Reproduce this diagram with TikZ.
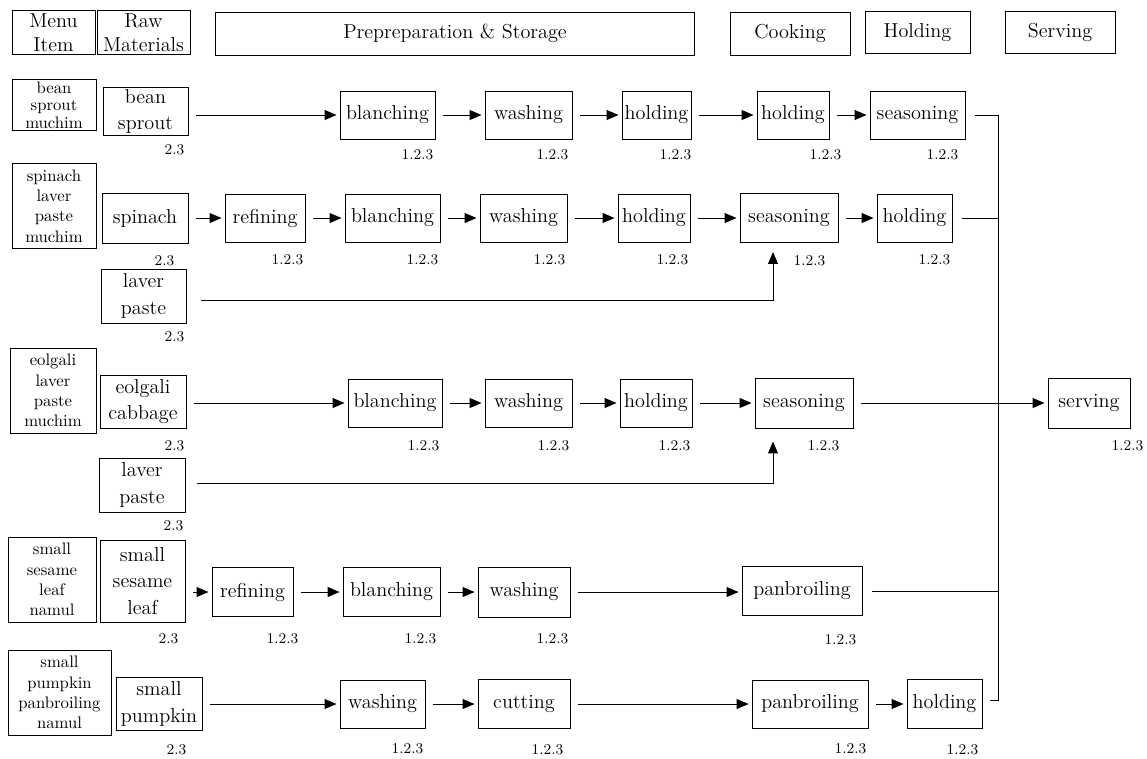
\documentclass[tikz,border=0pt]{standalone}
\usepackage{xcolor}
\usepackage{tikz}
\usetikzlibrary{positioning,arrows.meta,calc}

\begin{document}
\begin{tikzpicture}[x=0.02cm, y=-0.02cm, line width=0.55pt,
  hdr/.style={draw, align=center, font=\fontsize{11.5}{13.5}\selectfont, inner sep=1pt, minimum height=0.88cm},
  menu/.style={draw, align=center, font=\fontsize{9.5}{11.5}\selectfont, inner sep=1pt, minimum height=1.7cm},
  raw/.style={draw, align=center, font=\fontsize{11.5}{15}\selectfont, inner sep=1pt, minimum height=1.06cm},
  box/.style={draw, font=\fontsize{11.5}{13}\selectfont, inner sep=1pt, minimum height=0.96cm},
  num/.style={font=\fontsize{8.5}{10}\selectfont, inner sep=1pt},
  arr/.style={-{Triangle[length=0.24cm, width=0.2cm]}, shorten <=0.16cm, shorten >=0.06cm},
  ln/.style={shorten <=0.2cm}
]
\useasboundingbox (0,0) rectangle (1147,758);

% column heads
\node[hdr, minimum width=1.66cm] (hmenu) at (53.5,32.5) {Menu\\Item};
\node[hdr, minimum width=1.86cm] (hraw) at (143.5,32.5) {Raw\\Materials};
\node[hdr, minimum width=9.6cm, minimum height=0.86cm] (hprep) at (455,33.5) {Prepreparation \& Storage};
\node[hdr, minimum width=2.4cm, minimum height=0.86cm] (hcook) at (790,33.5) {Cooking};
\node[hdr, minimum width=2.1cm, minimum height=0.84cm] (hhold) at (917.5,32.5) {Holding};
\node[hdr, minimum width=2.2cm, minimum height=0.84cm] (hserv) at (1060,32.5) {Serving};

% bean sprout muchim
\node[menu, minimum width=1.68cm, minimum height=1.0cm, font=\fontsize{9.5}{10}\selectfont] (m1) at (54,105) {bean\\sprout\\muchim};
\node[raw, minimum width=1.7cm, minimum height=0.94cm] (r1) at (145.5,111.5) {bean\\sprout};
\node[box, minimum width=1.9cm] (b1) at (387.5,115) {blanching};
\node[box, minimum width=1.74cm] (w1) at (528.5,115) {washing};
\node[box, minimum width=1.38cm] (h1) at (656.5,115) {holding};
\node[box, minimum width=1.44cm] (k1) at (793,115) {holding};
\node[box, minimum width=1.9cm] (s1) at (917.5,115) {seasoning};
\node[num, below left=0.12cm and 0.04cm of r1.south east] (r1n) {2.3};
\node[num, below left=0.16cm and 0cm of b1.south east] (b1n) {1.2.3};
\node[num, below left=0.16cm and 0.04cm of w1.south east] (w1n) {1.2.3};
\node[num, below left=0.16cm and -0.04cm of h1.south east] (h1n) {1.2.3};
\node[num, below left=0.16cm and -0.28cm of k1.south east] (k1n) {1.2.3};
\node[num, below left=0.16cm and 0.1cm of s1.south east] (s1n) {1.2.3};

% spinach laver paste muchim
\node[menu, minimum width=1.68cm] (m2) at (54,206) {spinach\\laver\\paste\\muchim};
\node[raw, minimum width=1.72cm, minimum height=1.0cm] (r2) at (145,218) {spinach};
\node[box, minimum width=1.6cm] (f2) at (265,218) {refining};
\node[box, minimum width=1.9cm] (b2) at (392.5,218) {blanching};
\node[box, minimum width=1.74cm] (w2) at (523.5,218) {washing};
\node[box, minimum width=1.44cm] (h2) at (654,218) {holding};
\node[box, minimum width=1.96cm, minimum height=0.98cm] (s2) at (789,218) {seasoning};
\node[box, minimum width=1.5cm] (k2) at (914.5,218) {holding};
\node[raw, minimum width=1.7cm, minimum height=1.08cm] (l2) at (143.5,296) {laver\\paste};
\node[num, below left=0.2cm and 0.24cm of r2.south east] (r2n) {2.3};
\node[num, below left=0.2cm and 0cm of f2.south east] (f2n) {1.2.3};
\node[num, below left=0.2cm and 0cm of b2.south east] (b2n) {1.2.3};
\node[num, below left=0.2cm and 0cm of w2.south east] (w2n) {1.2.3};
\node[num, below left=0.2cm and 0cm of h2.south east] (h2n) {1.2.3};
\node[num, below left=0.2cm and 0.22cm of s2.south east] (s2n) {1.2.3};
\node[num, below left=0.2cm and 0cm of k2.south east] (k2n) {1.2.3};
\node[num, below left=0.12cm and 0cm of l2.south east] (l2n) {2.3};

% eolgali laver paste muchim
\node[menu, minimum width=1.72cm] (m3) at (53,390.5) {eolgali\\laver\\paste\\muchim};
\node[raw, minimum width=1.72cm] (r3) at (143,401.5) {eolgali\\cabbage};
\node[box, minimum width=1.88cm] (b3) at (395,403) {blanching};
\node[box, minimum width=1.74cm] (w3) at (528.5,403) {washing};
\node[box, minimum width=1.44cm] (h3) at (656,403) {holding};
\node[box, minimum width=1.96cm, minimum height=1.0cm] (s3) at (804,403) {seasoning};
\node[box, minimum width=1.64cm, minimum height=1.0cm] (sv) at (1089,403) {serving};
\node[raw, minimum width=1.72cm, minimum height=1.08cm] (l3) at (142,485) {laver\\paste};
\node[num, below left=0.2cm and 0cm of r3.south east] (r3n) {2.3};
\node[num, below left=0.22cm and 0.02cm of b3.south east] (b3n) {1.2.3};
\node[num, below left=0.22cm and 0.02cm of w3.south east] (w3n) {1.2.3};
\node[num, below left=0.22cm and 0cm of h3.south east] (h3n) {1.2.3};
\node[num, below left=0.2cm and 0.24cm of s3.south east] (s3n) {1.2.3};
\node[num, below left=0.2cm and -0.3cm of sv.south east] (svn) {1.2.3};
\node[num, below left=0.12cm and 0cm of l3.south east] (l3n) {2.3};

% small sesame leaf namul
\node[menu, minimum width=1.76cm] (m4) at (52,579.5) {small\\sesame\\leaf\\namul};
\node[raw, minimum width=1.7cm, minimum height=1.64cm] (r4) at (142.5,581) {small\\sesame\\leaf};
\node[box, minimum width=1.62cm, minimum height=0.98cm] (f4) at (252.5,592) {refining};
\node[box, minimum width=1.94cm, minimum height=0.98cm] (b4) at (391.5,592) {blanching};
\node[box, minimum width=1.84cm, minimum height=1.0cm] (w4) at (524,592) {washing};
\node[box, minimum width=2.4cm, minimum height=0.98cm] (p4) at (802,591) {panbroiling};
\node[num, below left=0.18cm and 0.1cm of r4.south east] (r4n) {2.3};
\node[num, below left=0.28cm and -0.14cm of f4.south east] (f4n) {1.2.3};
\node[num, below left=0.28cm and 0.04cm of b4.south east] (b4n) {1.2.3};
\node[num, below left=0.28cm and 0cm of w4.south east] (w4n) {1.2.3};
\node[num, below left=0.32cm and 0.08cm of p4.south east] (p4n) {1.2.3};

% small pumpkin panbroiling namul
\node[menu, minimum width=2.06cm] (m5) at (59.5,692.5) {small\\pumpkin\\panbroiling\\namul};
\node[raw, minimum width=1.72cm] (r5) at (159,704) {small\\pumpkin};
\node[box, minimum width=1.7cm] (w5) at (382.5,704) {washing};
\node[box, minimum width=1.84cm, minimum height=0.98cm] (c5) at (524,704) {cutting};
\node[box, minimum width=2.32cm] (p5) at (810,704) {panbroiling};
\node[box, minimum width=1.5cm, minimum height=0.98cm] (k5) at (944.5,704) {holding};
\node[num, below left=0.22cm and 0.28cm of r5.south east] (r5n) {2.3};
\node[num, below left=0.26cm and 0cm of w5.south east] (w5n) {1.2.3};
\node[num, below left=0.26cm and 0.1cm of c5.south east] (c5n) {1.2.3};
\node[num, below left=0.26cm and 0cm of p5.south east] (p5n) {1.2.3};
\node[num, below left=0.26cm and 0.04cm of k5.south east] (k5n) {1.2.3};

% collecting line to serving
\coordinate (bustop) at (998,115);
\coordinate (busbot) at (998,700);
\coordinate (j2) at (773,300);
\coordinate (j3) at (773,483);

\draw[arr] (r1.east |- b1) -- (b1);
\draw[arr] (b1) -- (w1);
\draw[arr] (w1) -- (h1);
\draw[arr] (h1) -- (k1);
\draw[arr] (k1) -- (s1);
\draw[shorten <=0.2cm, shorten >=0.16cm] (s1) -- (bustop) -- (busbot) -- (k5.east |- busbot);

\draw[arr] (r2) -- (f2);
\draw[arr] (f2) -- (b2);
\draw[arr] (b2) -- (w2);
\draw[arr] (w2) -- (h2);
\draw[arr] (h2) -- (s2);
\draw[arr] (s2) -- (k2);
\draw[ln] (k2) -- (k2 -| bustop);
\draw[arr, shorten <=0.3cm, shorten >=0.18cm] (l2.east |- j2) -- (j2) -- (j2 |- s2.south);

\draw[arr] (r3.east |- b3) -- (b3);
\draw[arr] (b3) -- (w3);
\draw[arr] (w3) -- (h3);
\draw[arr] (h3) -- (s3);
\draw[arr] (s3) -- (sv);
\draw[arr, shorten <=0.24cm, shorten >=0.26cm] (l3.east |- j3) -- (j3) -- (j3 |- s3.south);

\draw[arr] (r4.east |- f4) -- (f4);
\draw[arr] (f4) -- (b4);
\draw[arr] (b4) -- (w4);
\draw[arr] (w4) -- (w4 -| p4.west);
\draw[ln] (p4) -- (p4 -| bustop);

\draw[arr] (r5) -- (w5);
\draw[arr] (w5) -- (c5);
\draw[arr] (c5) -- (p5);
\draw[arr] (p5) -- (k5);
\end{tikzpicture}
\end{document}
